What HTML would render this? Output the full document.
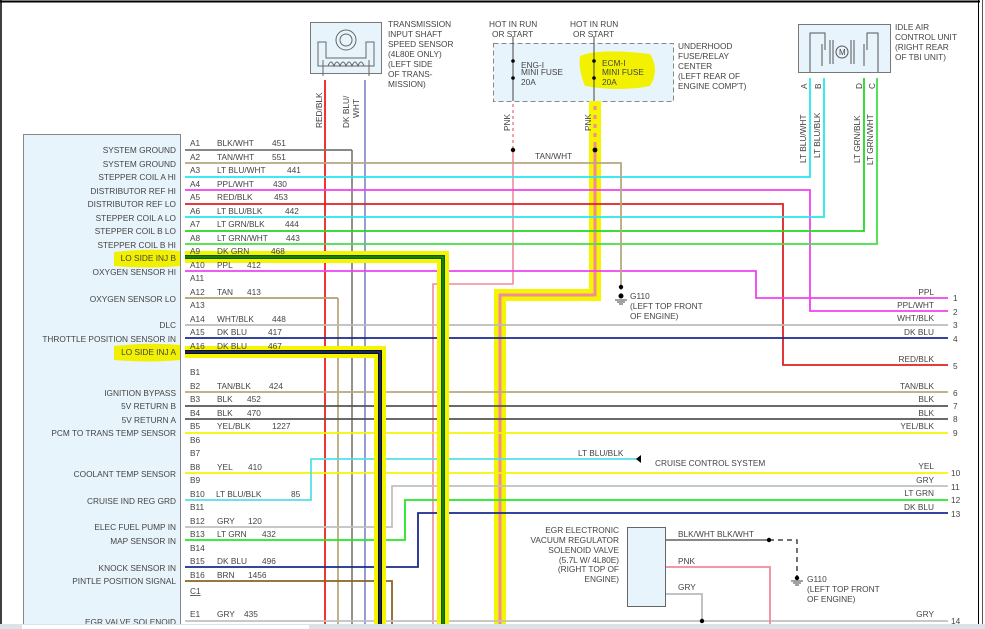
<!DOCTYPE html>
<html><head><meta charset="utf-8"><style>
html,body{margin:0;padding:0;background:#fff;}
svg{display:block;font-family:"Liberation Sans",sans-serif;}
text{font-size:8.3px;fill:#444;}
.r{text-anchor:end;}
</style></head><body>
<svg width="985" height="629" viewBox="0 0 985 629" xmlns="http://www.w3.org/2000/svg">
<rect x="0" y="0" width="985" height="629" fill="#fff"/>
<line x1="0" y1="1.5" x2="980" y2="1.5" stroke="#000" stroke-width="2"/>
<line x1="1" y1="0" x2="1" y2="624" stroke="#000" stroke-width="1.5"/>
<line x1="978.5" y1="0" x2="978.5" y2="624" stroke="#000" stroke-width="1"/>
<line x1="982.5" y1="0" x2="982.5" y2="624" stroke="#555" stroke-width="1"/>

<rect x="23.5" y="134.5" width="157" height="500" fill="#e8f4fc" stroke="#888"/>

<rect x="310.5" y="22.5" width="71" height="51" fill="#e8f4fc" stroke="#777"/>
<g fill="none" stroke="#666" stroke-width="1">
<circle cx="346" cy="40" r="10"/><circle cx="346" cy="40" r="6"/>
<path d="M318 42 V66 H374 V42 H366 V58 H326 V42 Z"/>
<path d="M328 66 q3 -8 6 0 q3 -8 6 0 q3 -8 6 0 q3 -8 6 0 q3 -8 6 0 q3 -8 6 0"/>
<path d="M323 60 V76 M369 60 V76"/>
</g>
<text x="388" y="27">TRANSMISSION</text><text x="388" y="37">INPUT SHAFT</text><text x="388" y="47">SPEED SENSOR</text><text x="388" y="57">(4L80E ONLY)</text><text x="388" y="67">(LEFT SIDE</text><text x="388" y="77">OF TRANS-</text><text x="388" y="87">MISSION)</text>

<rect x="493.5" y="43.5" width="180" height="58" fill="#e8f4fc" stroke="#888" stroke-dasharray="5,3"/>
<path d="M580 56 Q600 48 650 54 Q660 70 650 86 Q620 92 585 86 Q578 70 580 56Z" fill="#f2f200"/>
<text x="489" y="27">HOT IN RUN</text><text x="492" y="37">OR START</text>
<text x="570" y="27">HOT IN RUN</text><text x="573" y="37">OR START</text>
<line x1="513" y1="36" x2="513" y2="101" stroke="#444"/><line x1="594" y1="36" x2="594" y2="101" stroke="#444"/>
<circle cx="513" cy="61" r="1.8" fill="#000"/><circle cx="513" cy="78" r="1.8" fill="#000"/>
<circle cx="594" cy="61" r="1.8" fill="#000"/><circle cx="594" cy="78" r="1.8" fill="#000"/>
<text x="521" y="68">ENG-I</text><text x="521" y="75">MINI FUSE</text><text x="521" y="85">20A</text>
<text x="602" y="66">ECM-I</text><text x="602" y="75">MINI FUSE</text><text x="602" y="85">20A</text>
<text x="678" y="49">UNDERHOOD</text><text x="678" y="59">FUSE/RELAY</text><text x="678" y="69">CENTER</text><text x="678" y="79">(LEFT REAR OF</text><text x="678" y="89">ENGINE COMP'T)</text>

<rect x="798.5" y="24.5" width="92" height="48" fill="#e8f4fc" stroke="#777"/>
<g fill="none" stroke="#555">
<path d="M810 72 V33 H825 V50 M867 50 V33 H878 V72"/>
<circle cx="842" cy="52" r="6"/>
<path d="M822 44 V66 M830 40 V64 M833 40 V64 M851 40 V64 M854 40 V64 M864 44 V66"/>
</g>
<text x="839" y="55" style="font-size:8px">M</text>
<text x="895" y="30">IDLE AIR</text><text x="895" y="40">CONTROL UNIT</text><text x="895" y="50">(RIGHT REAR</text><text x="895" y="60">OF TBI UNIT)</text>

<g fill="none" stroke-width="1.6">
<path d="M325 80 V629" stroke="#e00"/>
<path d="M365 80 V629" stroke="#7a86c8"/>
<path d="M352 150 V629" stroke="#777"/>
<path d="M338 298 V629" stroke="#b0a070"/>
<path d="M513 101 V284 H433 V629" stroke="#f28a9a"/>
</g>
<path d="M513 101 V150" stroke="#fff" stroke-width="2" stroke-dasharray="3,3"/>
<circle cx="513" cy="150" r="2.2" fill="#000"/>
<path d="M595 101 V295 H500 V629" fill="none" stroke="#f5f500" stroke-width="12"/>
<path d="M595 101 V295 H500 V629" fill="none" stroke="#f28a9a" stroke-width="3"/>
<path d="M595 101 V145" stroke="#f5f500" stroke-width="3" stroke-dasharray="5,4"/>
<circle cx="595" cy="150" r="2.4" fill="#000"/>

<g fill="none" stroke-width="1.8">
<path d="M185 177 H810 V78" stroke="#22e8f0"/>
<path d="M185 190 H810 V311 H948" stroke="#f040f0"/>
<path d="M185 204 H783 V365 H948" stroke="#e02020"/>
<path d="M185 217 H824 V78" stroke="#22e8f0"/>
<path d="M185 231 H864 V78" stroke="#22d822"/>
<path d="M185 244 H877 V78" stroke="#44e044"/>
<path d="M185 271 H756 V298 H948" stroke="#f040f0"/>
<path d="M185 163 H621 V287" stroke="#b8a880"/>
<path d="M185 150 H352" stroke="#777"/>
<path d="M185 298 H338" stroke="#b0a070"/>
<path d="M185 325 H948" stroke="#bbb"/>
<path d="M185 338 H948" stroke="#1a2a90"/>
<path d="M185 392 H948" stroke="#b8a880"/>
<path d="M185 406 H948" stroke="#555"/>
<path d="M185 419 H948" stroke="#555"/>
<path d="M185 433 H948" stroke="#f5f500"/>
<path d="M185 473 H948" stroke="#f5f500"/>
<path d="M185 500 H311 V459 H638" stroke="#55e0e8"/>
<path d="M185 527 H392 V486 H948" stroke="#c0c0c0"/>
<path d="M185 540 H405 V500 H948" stroke="#22e822"/>
<path d="M185 567 H418 V513 H948" stroke="#1a2a90"/>
<path d="M185 581 H392 V629" stroke="#8a6420"/>
<path d="M185 621 H948" stroke="#c0c0c0"/>
<path d="M665 540 H769" stroke="#777"/>
<path d="M665 567 H770 V629" stroke="#f28a9a"/>
<path d="M665 594 H702 V621" stroke="#bbb"/>
</g>
<path d="M769 540 H797 V577" fill="none" stroke="#444" stroke-width="1.5" stroke-dasharray="5,4"/>
<path d="M621 287 V297" stroke="#b8a880" stroke-width="1.5" stroke-dasharray="3,3"/>
<circle cx="621" cy="287" r="2.2" fill="#000"/><circle cx="621" cy="296" r="2.5" fill="#000"/>
<path d="M615 300 H627 M617 302 H625 M619 304 H623" stroke="#444"/>
<circle cx="769" cy="540" r="2.2" fill="#000"/><circle cx="702" cy="621" r="2.2" fill="#000"/>
<circle cx="797" cy="578" r="2.2" fill="#000"/>
<path d="M791 581 H803 M793 583 H801 M795 585 H799" stroke="#444"/>
<path d="M641 455 L636 459 L641 463Z" fill="#000"/>

<path d="M185 257 H443 V629" fill="none" stroke="#f5f500" stroke-width="12"/>
<path d="M185 257 H443 V629" fill="none" stroke="#0a5a0a" stroke-width="4"/>
<path d="M185 257 H443 V629" fill="none" stroke="#1a8a1a" stroke-width="1.5"/>
<path d="M185 352 H380 V629" fill="none" stroke="#f5f500" stroke-width="12"/>
<path d="M185 352 H380 V629" fill="none" stroke="#111" stroke-width="4"/>
<path d="M185 352 H380 V629" fill="none" stroke="#1a2a90" stroke-width="1.5"/>
<path d="M114 252 Q150 248 180 251 V266 Q150 269 114 266Z" fill="#f0f000"/>
<path d="M114 346 Q150 342 180 345 V360 Q150 363 114 360Z" fill="#f0f000"/>

<rect x="627.5" y="527.5" width="38" height="79" fill="#e8f4fc" stroke="#666"/>
<text class="r" x="619" y="533">EGR ELECTRONIC</text><text class="r" x="619" y="543">VACUUM REGULATOR</text><text class="r" x="619" y="553">SOLENOID VALVE</text><text class="r" x="619" y="563">(5.7L W/ 4L80E)</text><text class="r" x="619" y="572">(RIGHT TOP OF</text><text class="r" x="619" y="582">ENGINE)</text>
<text x="678" y="537">BLK/WHT   BLK/WHT</text><text x="678" y="564">PNK</text><text x="678" y="590">GRY</text>
<text x="807" y="582">G110</text><text x="807" y="592">(LEFT TOP FRONT</text><text x="807" y="602">OF ENGINE)</text>
<text x="630" y="299">G110</text><text x="630" y="309">(LEFT TOP FRONT</text><text x="630" y="319">OF ENGINE)</text>
<text x="535" y="159">TAN/WHT</text>
<text x="578" y="456">LT BLU/BLK</text>
<text x="655" y="466">CRUISE CONTROL SYSTEM</text>

<g>
<text transform="translate(322,128) rotate(-90)">RED/BLK</text>
<text transform="translate(349,128) rotate(-90)">DK BLU/</text>
<text transform="translate(359,118) rotate(-90)">WHT</text>
<text transform="translate(510,131) rotate(-90)">PNK</text>
<text transform="translate(591,131) rotate(-90)">PNK</text>
<text transform="translate(806,163) rotate(-90)">LT BLU/WHT</text>
<text transform="translate(820,158) rotate(-90)">LT BLU/BLK</text>
<text transform="translate(860,163) rotate(-90)">LT GRN/BLK</text>
<text transform="translate(873,165) rotate(-90)">LT GRN/WHT</text>
<text transform="translate(807,89) rotate(-90)">A</text>
<text transform="translate(821,89) rotate(-90)">B</text>
<text transform="translate(862,89) rotate(-90)">D</text>
<text transform="translate(875,89) rotate(-90)">C</text>
</g>

<g>
<text class="r" x="934" y="295">PPL</text><text x="953" y="301">1</text>
<text class="r" x="934" y="308">PPL/WHT</text><text x="953" y="315">2</text>
<text class="r" x="934" y="321">WHT/BLK</text><text x="953" y="328">3</text>
<text class="r" x="934" y="335">DK BLU</text><text x="953" y="342">4</text>
<text class="r" x="934" y="362">RED/BLK</text><text x="953" y="369">5</text>
<text class="r" x="934" y="389">TAN/BLK</text><text x="953" y="396">6</text>
<text class="r" x="934" y="402">BLK</text><text x="953" y="409">7</text>
<text class="r" x="934" y="416">BLK</text><text x="953" y="422">8</text>
<text class="r" x="934" y="429">YEL/BLK</text><text x="953" y="436">9</text>
<text class="r" x="934" y="469">YEL</text><text x="951" y="476">10</text>
<text class="r" x="934" y="483">GRY</text><text x="951" y="490">11</text>
<text class="r" x="934" y="496">LT GRN</text><text x="951" y="503">12</text>
<text class="r" x="934" y="510">DK BLU</text><text x="951" y="517">13</text>
<text class="r" x="934" y="617">GRY</text><text x="951" y="624">14</text>
</g>

<g>
<text class="r" x="176" y="153">SYSTEM GROUND</text>
<text class="r" x="176" y="167">SYSTEM GROUND</text>
<text class="r" x="176" y="180">STEPPER COIL A HI</text>
<text class="r" x="176" y="194">DISTRIBUTOR REF HI</text>
<text class="r" x="176" y="207">DISTRIBUTOR REF LO</text>
<text class="r" x="176" y="221">STEPPER COIL A LO</text>
<text class="r" x="176" y="234">STEPPER COIL B LO</text>
<text class="r" x="176" y="248">STEPPER COIL B HI</text>
<text class="r" x="176" y="261">LO SIDE INJ B</text>
<text class="r" x="176" y="275">OXYGEN SENSOR HI</text>
<text class="r" x="176" y="302">OXYGEN SENSOR LO</text>
<text class="r" x="176" y="328">DLC</text>
<text class="r" x="176" y="342">THROTTLE POSITION SENSOR IN</text>
<text class="r" x="176" y="355">LO SIDE INJ A</text>
<text class="r" x="176" y="396">IGNITION BYPASS</text>
<text class="r" x="176" y="409">5V RETURN B</text>
<text class="r" x="176" y="423">5V RETURN A</text>
<text class="r" x="176" y="436">PCM TO TRANS TEMP SENSOR</text>
<text class="r" x="176" y="477">COOLANT TEMP SENSOR</text>
<text class="r" x="176" y="504">CRUISE IND REG GRD</text>
<text class="r" x="176" y="530">ELEC FUEL PUMP IN</text>
<text class="r" x="176" y="544">MAP SENSOR IN</text>
<text class="r" x="176" y="571">KNOCK SENSOR IN</text>
<text class="r" x="176" y="584">PINTLE POSITION SIGNAL</text>
<text class="r" x="176" y="625">EGR VALVE SOLENOID</text>
</g>
<g>
<text x="190" y="146">A1</text><text x="217" y="146">BLK/WHT</text><text x="272" y="146">451</text>
<text x="190" y="160">A2</text><text x="217" y="160">TAN/WHT</text><text x="272" y="160">551</text>
<text x="190" y="173">A3</text><text x="217" y="173">LT BLU/WHT</text><text x="287" y="173">441</text>
<text x="190" y="187">A4</text><text x="217" y="187">PPL/WHT</text><text x="273" y="187">430</text>
<text x="190" y="200">A5</text><text x="217" y="200">RED/BLK</text><text x="274" y="200">453</text>
<text x="190" y="214">A6</text><text x="217" y="214">LT BLU/BLK</text><text x="285" y="214">442</text>
<text x="190" y="227">A7</text><text x="217" y="227">LT GRN/BLK</text><text x="285" y="227">444</text>
<text x="190" y="241">A8</text><text x="217" y="241">LT GRN/WHT</text><text x="286" y="241">443</text>
<text x="190" y="254">A9</text><text x="217" y="254">DK GRN</text><text x="271" y="254">468</text>
<text x="190" y="268">A10</text><text x="217" y="268">PPL</text><text x="247" y="268">412</text>
<text x="190" y="281">A11</text>
<text x="190" y="295">A12</text><text x="217" y="295">TAN</text><text x="247" y="295">413</text>
<text x="190" y="308">A13</text>
<text x="190" y="322">A14</text><text x="217" y="322">WHT/BLK</text><text x="272" y="322">448</text>
<text x="190" y="335">A15</text><text x="217" y="335">DK BLU</text><text x="268" y="335">417</text>
<text x="190" y="349">A16</text><text x="217" y="349">DK BLU</text><text x="268" y="349">467</text>
<text x="190" y="375">B1</text>
<text x="190" y="389">B2</text><text x="217" y="389">TAN/BLK</text><text x="269" y="389">424</text>
<text x="190" y="402">B3</text><text x="217" y="402">BLK</text><text x="247" y="402">452</text>
<text x="190" y="416">B4</text><text x="217" y="416">BLK</text><text x="247" y="416">470</text>
<text x="190" y="429">B5</text><text x="217" y="429">YEL/BLK</text><text x="272" y="429">1227</text>
<text x="190" y="443">B6</text>
<text x="190" y="456">B7</text>
<text x="190" y="470">B8</text><text x="217" y="470">YEL</text><text x="248" y="470">410</text>
<text x="190" y="483">B9</text>
<text x="190" y="497">B10</text><text x="216" y="497">LT BLU/BLK</text><text x="291" y="497">85</text>
<text x="190" y="510">B11</text>
<text x="190" y="524">B12</text><text x="217" y="524">GRY</text><text x="248" y="524">120</text>
<text x="190" y="537">B13</text><text x="217" y="537">LT GRN</text><text x="262" y="537">432</text>
<text x="190" y="551">B14</text>
<text x="190" y="564">B15</text><text x="217" y="564">DK BLU</text><text x="262" y="564">496</text>
<text x="190" y="578">B16</text><text x="217" y="578">BRN</text><text x="248" y="578">1456</text>
<text x="190" y="594" text-decoration="underline">C1</text>
<text x="190" y="617">E1</text><text x="217" y="617">GRY</text><text x="244" y="617">435</text>
</g>
<rect x="0" y="624" width="985" height="5" fill="#dde2e8"/>
<rect x="22" y="625" width="287" height="4" fill="#fff"/>
</svg>
</body></html>
